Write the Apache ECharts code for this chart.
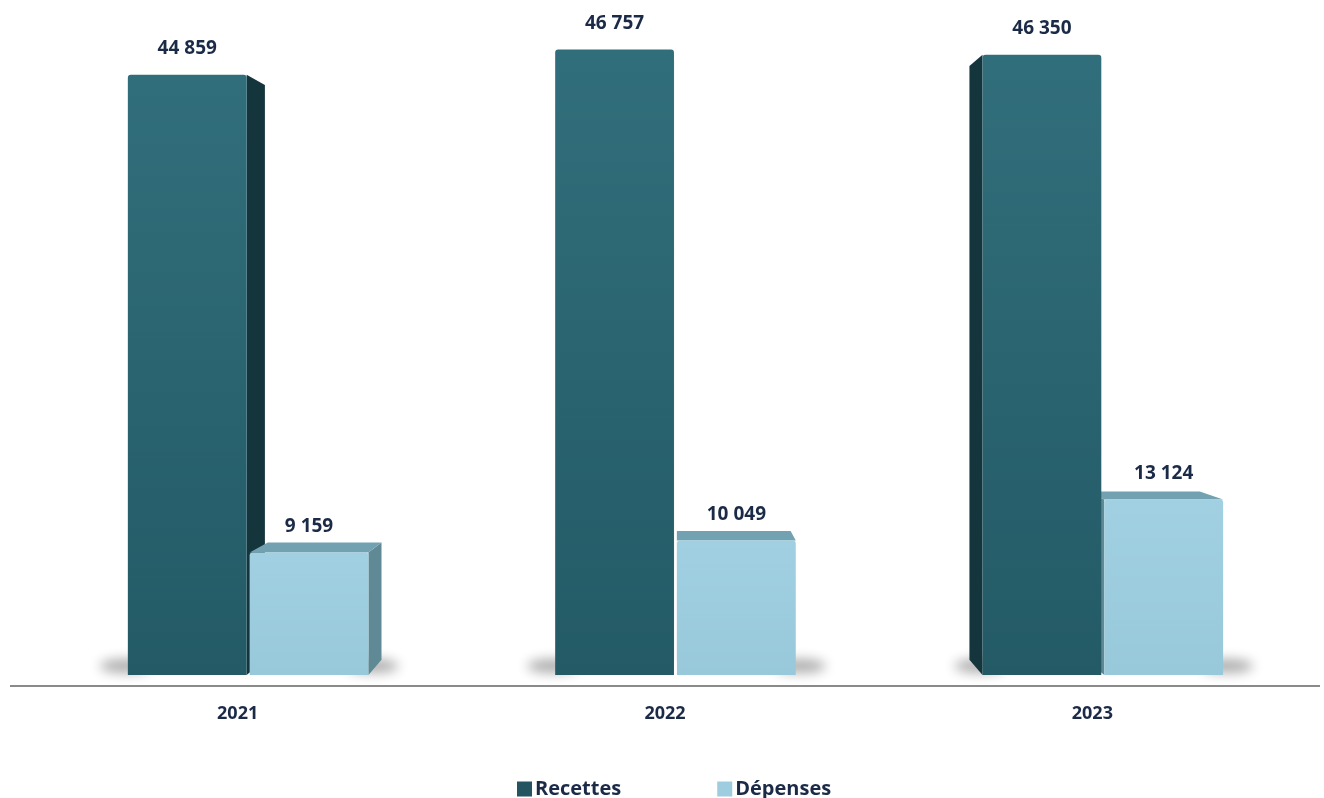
<!DOCTYPE html>
<html>
<head>
<meta charset="utf-8">
<title>Recettes et dépenses</title>
<script src="https://cdn.jsdelivr.net/npm/echarts@6/dist/echarts.min.js"></script>
<style>
  html, body { margin: 0; padding: 0; background: #ffffff; }
  #chart { width: 1324px; height: 798px; }
</style>
</head>
<body>
<div id="chart"></div>
<script>
// Data
const years = ['2021', '2022', '2023'];
const recettes = [44859, 46757, 46350];
const depenses = [9159, 10049, 13124];
const seriesNames = ['Recettes', 'Dépenses'];

// Perspective settings for the pseudo-3D boxes
const HORIZON = 26800;   // eye level, in axis units
const DEPTH = 0.0426;    // how far the back face recedes toward the vanishing point

const TEXT = '#1b2a47';
const FONT = '"Open Sans", "DejaVu Sans", sans-serif';
const OFF = 3000;        // soft shadows are cast from shapes placed off-canvas

const palette = [
  { front: ['#316e7b', '#235a66'], side: '#15353c', top: '#3d7784', legend: '#23545f' },
  { front: ['#a0d0e1', '#98c9da'], side: '#5f8a95', top: '#72a2b1', legend: '#9fcde0' }
];

function fmt(v) {
  return String(v).replace(/\B(?=(\d{3})+(?!\d))/g, ' ');
}

function makeRenderer(which) {
  const col = palette[which];
  return function (params, api) {
    const ci = api.value(0);
    const v = api.value(1);
    const basePt = api.coord([ci, 0]);
    const cx = basePt[0];
    const base = basePt[1];
    const top = api.coord([ci, v])[1];
    const band = api.size([1, 0])[0];

    const barW = band * 0.278;
    const gap = band * 0.007;
    const shift = band * 0.0245;
    const x0 = which === 0 ? cx + shift - gap / 2 - barW : cx + shift + gap / 2;
    const x1 = x0 + barW;

    const first = api.coord([0, 0])[0];
    const last = api.coord([years.length - 1, 0])[0];
    const vx = (first + last) / 2 + shift;
    const vy = api.coord([ci, HORIZON])[1];
    const back = (x, y) => [x + (vx - x) * DEPTH, y + (vy - y) * DEPTH];

    const children = [];

    // soft floor shadow beside the pair of boxes
    const shCx = which === 0 ? x0 - 2 : x1 + 4;
    children.push({
      type: 'ellipse', z2: 0, silent: true,
      shape: { cx: shCx, cy: base - 9 + OFF, rx: 26, ry: 7 },
      style: { fill: '#000', shadowBlur: 12, shadowColor: 'rgba(0,0,0,0.32)', shadowOffsetX: 0, shadowOffsetY: -OFF }
    });

    const bTL = back(x0, top), bTR = back(x1, top);
    const bBL = back(x0, base), bBR = back(x1, base);

    // side faces
    if (x1 < vx) {
      children.push({
        type: 'polygon', z2: 1,
        shape: { points: [[x1, top], bTR, bBR, [x1, base]] },
        style: { fill: col.side }
      });
    }
    if (x0 > vx) {
      children.push({
        type: 'polygon', z2: 1,
        shape: { points: [[x0, top], bTL, bBL, [x0, base]] },
        style: { fill: col.side }
      });
    }
    // top face
    if (top > vy) {
      children.push({
        type: 'polygon', z2: 2,
        shape: { points: [[x0, top], [x1, top], bTR, bTL] },
        style: { fill: col.top }
      });
    }
    // front face
    children.push({
      type: 'rect', z2: 10,
      shape: { x: x0, y: top, width: barW, height: base - top, r: [3, 3, 0, 0] },
      style: { fill: new echarts.graphic.LinearGradient(0, 0, 0, 1, [
        { offset: 0, color: col.front[0] }, { offset: 1, color: col.front[1] }]) }
    });
    // value label
    children.push({
      type: 'text', z2: 20,
      style: {
        text: fmt(v), x: (x0 + x1) / 2, y: top - 26,
        align: 'center', verticalAlign: 'middle',
        fill: TEXT, font: 'bold 19px ' + FONT
      }
    });

    return { type: 'group', children: children };
  };
}

const chart = echarts.init(document.getElementById('chart'), null, { renderer: 'canvas' });

const option = {
  backgroundColor: '#ffffff',
  animation: false,
  grid: { left: 24, right: 18, top: 6, bottom: 123 },
  xAxis: {
    type: 'category',
    data: years,
    axisLine: { show: false },
    axisTick: { show: false },
    axisLabel: { margin: 30, color: TEXT, fontFamily: FONT, fontWeight: 'bold', fontSize: 18 }
  },
  yAxis: {
    type: 'value', min: 0, max: 50000,
    show: false, splitLine: { show: false }
  },
  legend: {
    data: seriesNames,
    left: 512, bottom: -6,
    icon: 'rect', itemWidth: 15, itemHeight: 15, itemGap: 96,
    textStyle: { color: TEXT, fontFamily: FONT, fontWeight: 'bold', fontSize: 20, padding: [0, 0, 0, -2] }
  },
  graphic: [{
    type: 'line', z: 5,
    shape: { x1: 10, y1: 686, x2: 1320, y2: 686 },
    style: { stroke: '#8a8a8a', lineWidth: 2 }
  }],
  series: [
    {
      name: seriesNames[0], type: 'custom',
      itemStyle: { color: palette[0].legend },
      renderItem: makeRenderer(0),
      encode: { x: 0, y: 1 },
      data: years.map((y, i) => [i, recettes[i]])
    },
    {
      name: seriesNames[1], type: 'custom',
      itemStyle: { color: palette[1].legend },
      renderItem: makeRenderer(1),
      encode: { x: 0, y: 1 },
      data: years.map((y, i) => [i, depenses[i]])
    }
  ]
};

chart.setOption(option);
</script>
</body>
</html>
